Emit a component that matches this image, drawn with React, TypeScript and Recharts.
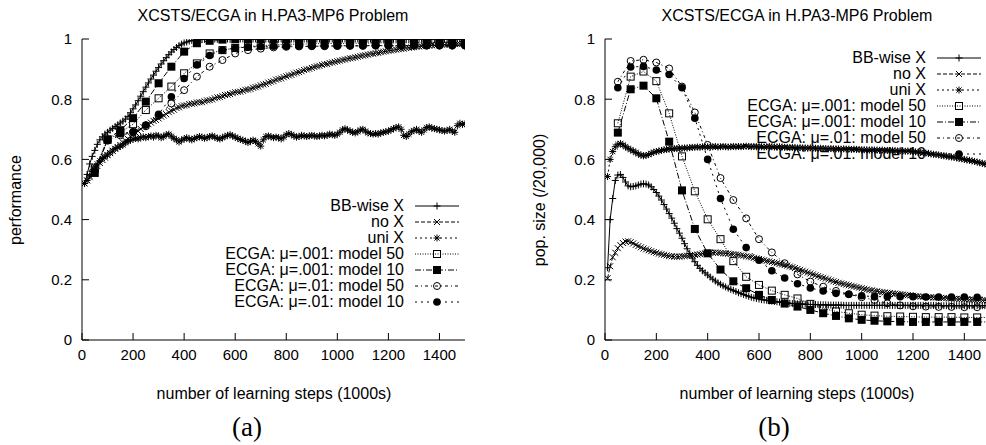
import React from 'react'
import { LineChart, Line, XAxis, YAxis } from 'recharts'

// sampling points of the learning runs (1000s of steps)
const DENSE_X = Array.from({ length: 150 }, (_, i) => (i + 1) * 10)
const ECGA_X = Array.from({ length: 30 }, (_, i) => (i + 1) * 50)

const X_TICKS = [0, 200, 400, 600, 800, 1000, 1200, 1400]
const Y_TICKS = [0, 0.2, 0.4, 0.6, 0.8, 1]

const SERIES_NAMES = [
  'BB-wise X',
  'no X',
  'uni X',
  'ECGA: \u03bc=.001: model 50',
  'ECGA: \u03bc=.001: model 10',
  'ECGA: \u03bc=.01: model 50',
  'ECGA: \u03bc=.01: model 10',
]

// ---- (a) performance ----
const perfBB = [
  0.52, 0.55, 0.585, 0.61, 0.63, 0.65, 0.665, 0.675, 0.684, 0.69,
  0.697, 0.703, 0.709, 0.715, 0.721, 0.727, 0.734, 0.743, 0.755, 0.768,
  0.781, 0.795, 0.81, 0.825, 0.84, 0.854, 0.867, 0.88, 0.893, 0.905,
  0.917, 0.928, 0.938, 0.948, 0.957, 0.965, 0.972, 0.978, 0.983, 0.987,
  0.99, 0.993, 0.995, 0.996, 0.997, 0.998, 0.998, 0.999, 0.999, 0.999,
  1, 1, 0.999, 1, 1, 1, 1, 0.999, 1, 1,
  1, 1, 1, 1, 0.999, 1, 1, 1, 1, 1,
  1, 1, 1, 1, 1, 1, 0.999, 1, 1, 1,
  1, 1, 1, 1, 1, 1, 1, 1, 1, 1,
  1, 1, 1, 0.999, 1, 1, 1, 1, 1, 1,
  1, 1, 1, 1, 1, 1, 1, 1, 1, 1,
  1, 1, 1, 1, 1, 1, 1, 1, 0.999, 1,
  1, 1, 1, 1, 1, 1, 1, 1, 1, 1,
  1, 1, 1, 1, 1, 1, 1, 1, 1, 1,
  1, 1, 1, 1, 1, 1, 1, 1, 1, 1,
]
const perfNoX = [
  0.52, 0.53, 0.541, 0.555, 0.567, 0.578, 0.588, 0.598, 0.606, 0.614,
  0.621, 0.629, 0.635, 0.641, 0.648, 0.656, 0.662, 0.668, 0.677, 0.683,
  0.689, 0.694, 0.701, 0.708, 0.713, 0.717, 0.722, 0.728, 0.731, 0.736,
  0.742, 0.746, 0.75, 0.757, 0.761, 0.765, 0.771, 0.773, 0.777, 0.779,
  0.78, 0.784, 0.785, 0.786, 0.789, 0.79, 0.79, 0.793, 0.796, 0.797,
  0.799, 0.803, 0.806, 0.807, 0.81, 0.814, 0.815, 0.817, 0.82, 0.823,
  0.824, 0.825, 0.828, 0.831, 0.832, 0.834, 0.838, 0.84, 0.842, 0.846,
  0.849, 0.851, 0.855, 0.858, 0.86, 0.865, 0.867, 0.869, 0.873, 0.876,
  0.879, 0.881, 0.885, 0.888, 0.89, 0.893, 0.897, 0.899, 0.901, 0.904,
  0.907, 0.909, 0.911, 0.914, 0.916, 0.917, 0.92, 0.922, 0.924, 0.926,
  0.928, 0.93, 0.932, 0.934, 0.936, 0.937, 0.939, 0.941, 0.943, 0.945,
  0.946, 0.948, 0.95, 0.951, 0.953, 0.954, 0.956, 0.958, 0.959, 0.961,
  0.962, 0.963, 0.965, 0.966, 0.967, 0.968, 0.97, 0.971, 0.972, 0.973,
  0.974, 0.975, 0.976, 0.977, 0.977, 0.978, 0.979, 0.979, 0.98, 0.98,
  0.981, 0.981, 0.982, 0.982, 0.983, 0.983, 0.984, 0.984, 0.985, 0.985,
]
const perfUni = [
  0.52, 0.53, 0.545, 0.56, 0.575, 0.585, 0.595, 0.603, 0.61, 0.615,
  0.622, 0.628, 0.636, 0.64, 0.644, 0.648, 0.655, 0.66, 0.664, 0.667,
  0.67, 0.668, 0.672, 0.675, 0.672, 0.676, 0.678, 0.674, 0.68, 0.678,
  0.672, 0.676, 0.682, 0.684, 0.677, 0.67, 0.665, 0.658, 0.664, 0.668,
  0.672, 0.668, 0.665, 0.67, 0.672, 0.676, 0.674, 0.67, 0.672, 0.676,
  0.678, 0.674, 0.67, 0.668, 0.672, 0.676, 0.68, 0.682, 0.678, 0.674,
  0.67, 0.666, 0.664, 0.66, 0.656, 0.66, 0.664, 0.66, 0.652, 0.644,
  0.665, 0.676, 0.678, 0.675, 0.672, 0.674, 0.672, 0.668, 0.674, 0.682,
  0.686, 0.683, 0.678, 0.674, 0.676, 0.68, 0.678, 0.676, 0.678, 0.68,
  0.678, 0.676, 0.678, 0.68, 0.678, 0.68, 0.684, 0.682, 0.68, 0.684,
  0.69, 0.698, 0.702, 0.698, 0.694, 0.69, 0.688, 0.692, 0.698, 0.7,
  0.694, 0.688, 0.686, 0.684, 0.686, 0.684, 0.688, 0.69, 0.692, 0.694,
  0.698, 0.702, 0.706, 0.708, 0.7, 0.68, 0.676, 0.684, 0.692, 0.696,
  0.7, 0.694, 0.69, 0.698, 0.706, 0.708, 0.704, 0.702, 0.7, 0.698,
  0.696, 0.694, 0.696, 0.7, 0.694, 0.69, 0.712, 0.72, 0.716, 0.718,
]
const perfM50a = [
  0.57, 0.665, 0.69, 0.717, 0.764, 0.803, 0.842, 0.886, 0.919, 0.952,
  0.963, 0.97, 0.975, 0.978, 0.98, 0.982, 0.983, 0.984, 0.985, 0.985,
  0.986, 0.986, 0.987, 0.987, 0.987, 0.988, 0.988, 0.988, 0.988, 0.988,
]
const perfM10a = [
  0.555, 0.667, 0.697, 0.737, 0.792, 0.853, 0.908, 0.958, 0.986, 0.994,
  0.998, 0.999, 1, 1, 1, 1, 1, 1, 1, 1,
  1, 1, 1, 1, 1, 1, 1, 1, 1, 1,
]
const perfM50b = [
  0.565, 0.662, 0.68, 0.69, 0.71, 0.745, 0.786, 0.83, 0.875, 0.908,
  0.93, 0.952, 0.963, 0.968, 0.972, 0.974, 0.975, 0.976, 0.976, 0.977,
  0.977, 0.977, 0.978, 0.978, 0.978, 0.978, 0.978, 0.978, 0.978, 0.978,
]
const perfM10b = [
  0.56, 0.665, 0.685, 0.692, 0.714, 0.75, 0.808, 0.869, 0.914, 0.945,
  0.963, 0.97, 0.973, 0.975, 0.976, 0.976, 0.977, 0.977, 0.977, 0.977,
  0.978, 0.978, 0.978, 0.978, 0.978, 0.978, 0.978, 0.978, 0.978, 0.978,
]

// ---- (b) population size ----
const popBB = [
  0.24, 0.4, 0.47, 0.53, 0.548, 0.55, 0.54, 0.525, 0.512, 0.509,
  0.51, 0.512, 0.515, 0.518, 0.519, 0.518, 0.515, 0.509, 0.5, 0.49,
  0.478, 0.465, 0.45, 0.435, 0.42, 0.405, 0.388, 0.37, 0.355, 0.338,
  0.32, 0.303, 0.287, 0.272, 0.26, 0.248, 0.238, 0.23, 0.223, 0.216,
  0.209, 0.202, 0.196, 0.19, 0.185, 0.18, 0.176, 0.172, 0.168, 0.165,
  0.161, 0.157, 0.154, 0.151, 0.148, 0.145, 0.142, 0.14, 0.138, 0.136,
  0.134, 0.133, 0.132, 0.13, 0.129, 0.128, 0.127, 0.126, 0.125, 0.124,
  0.123, 0.122, 0.121, 0.121, 0.12, 0.12, 0.119, 0.119, 0.118, 0.118,
  0.118, 0.118, 0.117, 0.117, 0.117, 0.117, 0.116, 0.116, 0.116, 0.116,
  0.116, 0.116, 0.115, 0.115, 0.115, 0.115, 0.115, 0.115, 0.115, 0.115,
  0.115, 0.115, 0.115, 0.115, 0.115, 0.115, 0.115, 0.115, 0.115, 0.115,
  0.115, 0.115, 0.115, 0.115, 0.115, 0.115, 0.115, 0.115, 0.115, 0.115,
  0.115, 0.115, 0.115, 0.115, 0.115, 0.115, 0.115, 0.115, 0.115, 0.115,
  0.114, 0.114, 0.114, 0.114, 0.114, 0.114, 0.114, 0.114, 0.114, 0.114,
  0.114, 0.114, 0.114, 0.114, 0.114, 0.114, 0.114, 0.114, 0.114, 0.114,
]
const popNoX = [
  0.205, 0.245, 0.275, 0.29, 0.305, 0.315, 0.322, 0.327, 0.328, 0.325,
  0.321, 0.316, 0.312, 0.308, 0.304, 0.301, 0.298, 0.295, 0.292, 0.29,
  0.287, 0.285, 0.283, 0.281, 0.279, 0.278, 0.277, 0.277, 0.277, 0.278,
  0.279, 0.28, 0.281, 0.282, 0.283, 0.284, 0.285, 0.287, 0.288, 0.289,
  0.29, 0.29, 0.291, 0.29, 0.289, 0.288, 0.288, 0.287, 0.286, 0.285,
  0.284, 0.283, 0.281, 0.28, 0.278, 0.277, 0.275, 0.273, 0.271, 0.269,
  0.267, 0.265, 0.263, 0.261, 0.259, 0.257, 0.255, 0.253, 0.251, 0.249,
  0.247, 0.244, 0.242, 0.239, 0.236, 0.233, 0.23, 0.227, 0.224, 0.221,
  0.218, 0.215, 0.212, 0.209, 0.207, 0.204, 0.201, 0.198, 0.195, 0.193,
  0.19, 0.188, 0.186, 0.184, 0.182, 0.18, 0.178, 0.176, 0.174, 0.172,
  0.17, 0.168, 0.166, 0.165, 0.163, 0.162, 0.16, 0.159, 0.158, 0.157,
  0.156, 0.155, 0.154, 0.153, 0.152, 0.151, 0.15, 0.149, 0.148, 0.147,
  0.146, 0.145, 0.144, 0.144, 0.143, 0.142, 0.142, 0.141, 0.141, 0.14,
  0.14, 0.139, 0.139, 0.138, 0.138, 0.137, 0.137, 0.136, 0.136, 0.135,
  0.135, 0.134, 0.134, 0.133, 0.133, 0.133, 0.132, 0.132, 0.131, 0.131,
]
const popUni = [
  0.543, 0.6, 0.626, 0.642, 0.65, 0.653, 0.648, 0.642, 0.637, 0.632,
  0.628, 0.623, 0.618, 0.614, 0.612, 0.613, 0.616, 0.62, 0.624, 0.626,
  0.628, 0.63, 0.632, 0.633, 0.634, 0.635, 0.636, 0.636, 0.637, 0.637,
  0.638, 0.638, 0.639, 0.64, 0.64, 0.641, 0.64, 0.642, 0.641, 0.642,
  0.641, 0.642, 0.643, 0.641, 0.642, 0.643, 0.642, 0.641, 0.642, 0.643,
  0.642, 0.643, 0.642, 0.643, 0.644, 0.643, 0.642, 0.643, 0.642, 0.643,
  0.642, 0.641, 0.642, 0.643, 0.642, 0.641, 0.641, 0.642, 0.641, 0.64,
  0.64, 0.639, 0.64, 0.639, 0.638, 0.639, 0.638, 0.638, 0.637, 0.638,
  0.637, 0.637, 0.636, 0.637, 0.636, 0.636, 0.635, 0.636, 0.635, 0.635,
  0.635, 0.634, 0.635, 0.634, 0.634, 0.633, 0.634, 0.633, 0.633, 0.632,
  0.632, 0.632, 0.631, 0.632, 0.631, 0.631, 0.63, 0.631, 0.63, 0.63,
  0.629, 0.63, 0.629, 0.628, 0.629, 0.628, 0.627, 0.628, 0.627, 0.626,
  0.625, 0.624, 0.623, 0.622, 0.621, 0.62, 0.618, 0.617, 0.616, 0.615,
  0.613, 0.612, 0.611, 0.609, 0.608, 0.607, 0.605, 0.603, 0.602, 0.6,
  0.598, 0.597, 0.595, 0.593, 0.591, 0.589, 0.587, 0.585, 0.583, 0.581,
]
const popM50a = [
  0.72, 0.875, 0.892, 0.86, 0.753, 0.61, 0.494, 0.401, 0.335, 0.262,
  0.21, 0.183, 0.164, 0.15, 0.138, 0.12, 0.105, 0.095, 0.089, 0.084,
  0.081, 0.079, 0.078, 0.077, 0.076, 0.076, 0.076, 0.075, 0.075, 0.075,
]
const popM10a = [
  0.689, 0.833, 0.845, 0.803, 0.659, 0.497, 0.369, 0.288, 0.234, 0.195,
  0.172, 0.15, 0.133, 0.121, 0.111, 0.1, 0.089, 0.08, 0.072, 0.067,
  0.064, 0.062, 0.061, 0.06, 0.06, 0.06, 0.06, 0.06, 0.06, 0.06,
]
const popM50b = [
  0.858, 0.927, 0.931, 0.922, 0.902, 0.842, 0.756, 0.648, 0.538, 0.465,
  0.404, 0.335, 0.291, 0.255, 0.218, 0.194, 0.177, 0.163, 0.152, 0.142,
  0.133, 0.122, 0.115, 0.112, 0.111, 0.11, 0.11, 0.109, 0.109, 0.108,
]
const popM10b = [
  0.838, 0.907, 0.909, 0.897, 0.882, 0.838, 0.737, 0.6, 0.47, 0.368,
  0.307, 0.265, 0.23, 0.206, 0.187, 0.173, 0.163, 0.155, 0.152, 0.147,
  0.144, 0.144, 0.144, 0.144, 0.143, 0.143, 0.143, 0.143, 0.142, 0.142,
]

type Shape = 'plus' | 'cross' | 'star' | 'sqOpen' | 'sqFill' | 'cirOpen' | 'cirFill'

const SHAPES: Shape[] = ['plus', 'cross', 'star', 'sqOpen', 'sqFill', 'cirOpen', 'cirFill']
const DASHES = [undefined, '4 2', '2 3', '1 1.5', '6 2 1 2', '3 3 1 3', '2 4']

const FONT = '"Liberation Sans", Arial, Helvetica, sans-serif'

function Marker({ cx, cy, shape }: { cx: number; cy: number; shape: Shape }) {
  if (cx == null || cy == null) return <g />
  const s = '#000'
  switch (shape) {
    case 'plus':
      return <path d={`M${cx - 3.5},${cy}h7M${cx},${cy - 3.5}v7`} stroke={s} strokeWidth={1} fill="none" />
    case 'cross':
      return <path d={`M${cx - 3},${cy - 3}l6,6M${cx - 3},${cy + 3}l6,-6`} stroke={s} strokeWidth={1} fill="none" />
    case 'star':
      return (
        <path
          d={`M${cx - 3.5},${cy}h7M${cx},${cy - 3.5}v7M${cx - 2.6},${cy - 2.6}l5.2,5.2M${cx - 2.6},${cy + 2.6}l5.2,-5.2`}
          stroke={s}
          strokeWidth={1}
          fill="none"
        />
      )
    case 'sqOpen':
      return <rect x={cx - 3.5} y={cy - 3.5} width={7} height={7} stroke={s} strokeWidth={1} fill="none" />
    case 'sqFill':
      return <rect x={cx - 4} y={cy - 4} width={8} height={8} fill={s} />
    case 'cirOpen':
      return <circle cx={cx} cy={cy} r={3.5} stroke={s} strokeWidth={1} fill="none" />
    default:
      return <circle cx={cx} cy={cy} r={3.8} fill={s} />
  }
}

const dotFor = (shape: Shape) => (p: any) =>
  <Marker key={`${shape}-${p.index}`} cx={p.cx} cy={p.cy} shape={shape} />

// gnuplot style key, placed by hand over the plot
function KeyBox({ left, top, width }: { left: number; top: number; width: number }) {
  return (
    <div style={{ position: 'absolute', left, top, width, fontFamily: FONT, fontSize: 16, color: '#000' }}>
      {SERIES_NAMES.map((name, i) => (
        <div key={name} style={{ display: 'flex', alignItems: 'center', height: 16, lineHeight: '16px' }}>
          <span style={{ flex: 1, textAlign: 'right', whiteSpace: 'nowrap' }}>{name}</span>
          <svg width={44} height={16} style={{ marginLeft: 11, overflow: 'visible', flex: 'none' }}>
            <line x1={0} y1={8} x2={44} y2={8} stroke="#000" strokeWidth={1} strokeDasharray={DASHES[i]} />
            <Marker cx={22} cy={8} shape={SHAPES[i]} />
          </svg>
        </div>
      ))}
    </div>
  )
}

const toDense = (ys: number[]) => ys.map((y, i) => ({ x: DENSE_X[i], y }))
const toEcga = (ys: number[]) => ys.map((y, i) => ({ x: ECGA_X[i], y }))

interface PanelProps {
  width: number
  margin: { top: number; right: number; bottom: number; left: number }
  series: number[][]
}

function Panel({ width, margin, series }: PanelProps) {
  const tickStyle = { fontFamily: FONT, fontSize: 15, fill: '#000' }
  return (
    <LineChart width={width} height={445} margin={margin}>
      <XAxis
        dataKey="x"
        type="number"
        domain={[0, 1500]}
        ticks={X_TICKS}
        allowDataOverflow
        height={30}
        stroke="#000"
        tickSize={-7}
        tickMargin={16}
        tick={tickStyle}
        interval={0}
      />
      <XAxis
        xAxisId="top"
        orientation="top"
        type="number"
        domain={[0, 1500]}
        ticks={X_TICKS}
        allowDataOverflow
        height={0}
        stroke="#000"
        tickSize={-7}
        tick={false}
        interval={0}
      />
      <YAxis
        type="number"
        domain={[0, 1]}
        ticks={Y_TICKS}
        allowDataOverflow
        width={40}
        stroke="#000"
        tickSize={-7}
        tickMargin={17}
        tick={tickStyle}
        interval={0}
      />
      <YAxis
        yAxisId="right"
        orientation="right"
        type="number"
        domain={[0, 1]}
        ticks={Y_TICKS}
        allowDataOverflow
        width={0}
        stroke="#000"
        tickSize={-7}
        tick={false}
        interval={0}
      />
      {series.map((ys, i) => (
        <Line
          key={SERIES_NAMES[i]}
          name={SERIES_NAMES[i]}
          data={i < 3 ? toDense(ys) : toEcga(ys)}
          dataKey="y"
          type="linear"
          stroke="#000"
          strokeWidth={1}
          strokeDasharray={DASHES[i]}
          dot={dotFor(SHAPES[i])}
          activeDot={false}
          isAnimationActive={false}
        />
      ))}
    </LineChart>
  )
}

const textBase: React.CSSProperties = {
  position: 'absolute',
  fontFamily: FONT,
  fontSize: 16,
  lineHeight: '16px',
  color: '#000',
  whiteSpace: 'nowrap',
  textAlign: 'center',
}

function Label({ x, y, text, rotate = false }: { x: number; y: number; text: string; rotate?: boolean }) {
  return (
    <div
      style={{
        ...textBase,
        left: x - 150,
        top: y - 8,
        width: 300,
        height: 16,
        transform: rotate ? 'rotate(-90deg)' : undefined,
      }}
    >
      {text}
    </div>
  )
}

function Caption({ x, text }: { x: number; text: string }) {
  return (
    <div
      style={{
        position: 'absolute',
        left: x - 40,
        width: 80,
        top: 412,
        textAlign: 'center',
        fontFamily: '"Liberation Serif", "Times New Roman", serif',
        fontSize: 27,
        lineHeight: '30px',
        color: '#000',
      }}
    >
      {text}
    </div>
  )
}

export default function App() {
  const title = 'XCSTS/ECGA in H.PA3-MP6 Problem'
  const xLabel = 'number of learning steps (1000s)'
  return (
    <div style={{ position: 'absolute', left: 0, top: 0, width: 986, height: 445, overflow: 'hidden', background: '#fff' }}>
      <div style={{ position: 'absolute', left: 0, top: 0 }}>
        <Panel
          width={490}
          margin={{ top: 39, right: 25, bottom: 75, left: 42 }}
          series={[perfBB, perfNoX, perfUni, perfM50a, perfM10a, perfM50b, perfM10b]}
        />
      </div>
      <div style={{ position: 'absolute', left: 490, top: 0 }}>
        <Panel
          width={520}
          margin={{ top: 39, right: 20, bottom: 75, left: 75 }}
          series={[popBB, popNoX, popUni, popM50a, popM10a, popM50b, popM10b]}
        />
      </div>
      <KeyBox left={150} top={198} width={309} />
      <KeyBox left={670} top={50} width={311} />
      <Label x={273} y={16} text={title} />
      <Label x={797} y={16} text={title} />
      <Label x={274} y={394} text={xLabel} />
      <Label x={797} y={394} text={xLabel} />
      <Label x={16} y={200} text="performance" rotate />
      <Label x={540} y={200} text="pop. size (/20,000)" rotate />
      <Caption x={247} text="(a)" />
      <Caption x={774} text="(b)" />
    </div>
  )
}
